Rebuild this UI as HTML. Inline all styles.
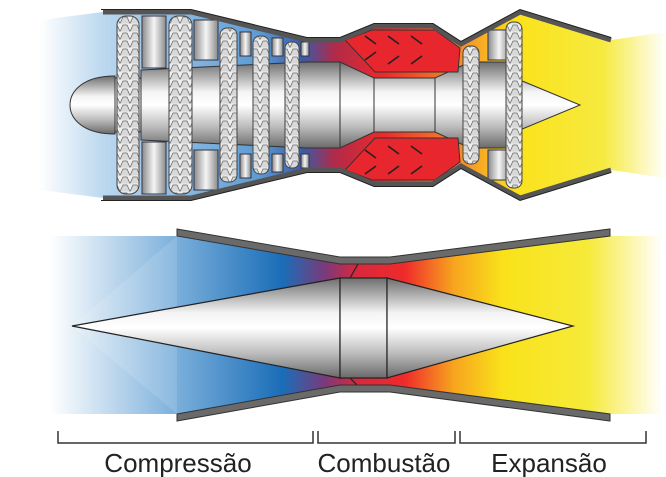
<!DOCTYPE html>
<html><head><meta charset="utf-8"><style>
html,body{margin:0;padding:0;background:#fff;width:666px;height:477px;overflow:hidden}
svg{display:block}
text{font-family:"Liberation Sans",sans-serif}
</style></head><body>
<svg width="666" height="477" viewBox="0 0 666 477" xmlns="http://www.w3.org/2000/svg">
<defs>
<linearGradient id="metal" x1="0" y1="0" x2="0" y2="1">
<stop offset="0" stop-color="#6e6e6e"/><stop offset="0.35" stop-color="#f4f4f4"/><stop offset="0.5" stop-color="#ffffff"/><stop offset="0.75" stop-color="#bdbdbd"/><stop offset="1" stop-color="#6a6a6a"/></linearGradient>
<linearGradient id="metalh" x1="0" y1="0" x2="1" y2="0">
<stop offset="0" stop-color="#8a8a8a"/><stop offset="0.5" stop-color="#f5f5f5"/><stop offset="1" stop-color="#8a8a8a"/></linearGradient>
<linearGradient id="flow" gradientUnits="userSpaceOnUse" x1="50" y1="0" x2="662" y2="0">
<stop offset="0" stop-color="#ffffff"/><stop offset="0.2" stop-color="#7fb2dc"/><stop offset="0.38" stop-color="#1a6db8"/><stop offset="0.45" stop-color="#7a3a7a"/><stop offset="0.5" stop-color="#d8283e"/><stop offset="0.58" stop-color="#ef2b2b"/><stop offset="0.66" stop-color="#f7a51e"/><stop offset="0.74" stop-color="#f9e21a"/><stop offset="0.88" stop-color="#f6ea3a"/><stop offset="1" stop-color="#ffffff"/></linearGradient>
<linearGradient id="flowtop" gradientUnits="userSpaceOnUse" x1="40" y1="0" x2="666" y2="0">
<stop offset="0" stop-color="#ffffff"/><stop offset="0.1" stop-color="#bcd8ef"/><stop offset="0.35" stop-color="#5c9bd3"/><stop offset="0.42" stop-color="#3a5aa8"/><stop offset="0.47" stop-color="#b02a4a"/><stop offset="0.55" stop-color="#ec2a2a"/><stop offset="0.68" stop-color="#f6922a"/><stop offset="0.76" stop-color="#fbe21a"/><stop offset="0.9" stop-color="#f6ea40"/><stop offset="1" stop-color="#ffffff"/></linearGradient>
<pattern id="blades" width="10" height="8" patternUnits="userSpaceOnUse">
<rect width="10" height="8" fill="#eeeeee"/><path d="M0 7.5 L3 1 L7 1 L10 7.5" fill="#d8d8d8" stroke="#666" stroke-width="0.7"/></pattern>
</defs>

<polygon points="40,20 103,12 191,12 307,40 340,40 374,26 433,26 461,44 520,12 611,40 666,32 666,178 611,170 520,198 461,166 433,184 374,184 340,170 307,170 191,198 103,198 40,190" fill="url(#flowtop)"/>
<path d="M115,78 L141,78 L141,70 L307,62 L340,62 L374,78 L435,78 L470,62 L515,62 L515,78 L580,105 L515,132 L515,148 L470,148 L435,132 L374,132 L340,148 L307,148 L141,140 L141,132 L115,132 Z" fill="url(#metal)" stroke="#333" stroke-width="1"/>
<line x1="340" y1="62" x2="340" y2="148" stroke="#333"/><line x1="374" y1="78" x2="374" y2="132" stroke="#333"/><line x1="435" y1="78" x2="435" y2="132" stroke="#333"/>
<line x1="141" y1="70" x2="141" y2="140" stroke="#333"/>
<path d="M115,76 C82,76 70,92 70,105 C70,118 82,134 115,134 Z" fill="url(#metal)" stroke="#333"/>
<g fill="url(#metalh)" stroke="#334" stroke-width="1">
<rect x="142" y="16" width="24" height="52"/><rect x="142" y="142" width="24" height="52"/>
<rect x="194" y="20" width="24" height="40"/><rect x="194" y="150" width="24" height="40"/>
<rect x="240" y="32" width="11" height="24"/><rect x="240" y="154" width="11" height="24"/>
<rect x="272" y="38" width="11" height="18"/><rect x="272" y="154" width="11" height="18"/>
<rect x="301" y="42" width="8" height="14"/><rect x="301" y="154" width="8" height="14"/>
<rect x="488" y="30" width="22" height="30"/><rect x="488" y="150" width="22" height="30"/>
</g>
<g fill="#e8262e" stroke="#333">
<polygon points="345,40 372,30 435,30 460,48 458,72 375,72"/>
<polygon points="345,170 372,180 435,180 460,162 458,138 375,138"/>
</g>
<g stroke="#222" stroke-width="1.6">
<line x1="365" y1="36" x2="376" y2="44"/><line x1="388" y1="36" x2="399" y2="44"/><line x1="411" y1="36" x2="422" y2="44"/>
<line x1="365" y1="60" x2="376" y2="52"/><line x1="388" y1="64" x2="399" y2="56"/><line x1="411" y1="64" x2="422" y2="56"/>
<line x1="365" y1="150" x2="376" y2="158"/><line x1="388" y1="146" x2="399" y2="154"/><line x1="411" y1="146" x2="422" y2="154"/>
<line x1="365" y1="174" x2="376" y2="166"/><line x1="388" y1="174" x2="399" y2="166"/><line x1="411" y1="174" x2="422" y2="166"/>
</g>
<g stroke="#444" stroke-width="1">
<rect x="117" y="16" width="22" height="178" rx="9" fill="url(#blades)"/>
<rect x="169" y="16" width="23" height="178" rx="9" fill="url(#blades)"/>
<rect x="220" y="28" width="17" height="154" rx="7" fill="url(#blades)"/>
<rect x="253" y="36" width="16" height="138" rx="7" fill="url(#blades)"/>
<rect x="285" y="42" width="14" height="126" rx="6" fill="url(#blades)"/>
<rect x="463" y="46" width="16" height="118" rx="7" fill="url(#blades)"/>
<rect x="506" y="22" width="16" height="166" rx="7" fill="url(#blades)"/>
</g>
<g fill="none" stroke="#555" stroke-width="5" stroke-linejoin="miter">
<polyline points="103,12 191,12 307,40 340,40 374,26 433,26 461,44 520,12 611,40"/>
<polyline points="103,198 191,198 307,170 340,170 374,184 433,184 461,166 520,198 611,170"/>
</g>
<g fill="none" stroke="#222" stroke-width="1">
<polyline points="101,9.5 191,9.5 307,37.5 340,37.5 374,23.5 433,23.5 461,41.5 520,9.5 611,37.5"/>
<polyline points="101,200.5 191,200.5 307,172.5 340,172.5 374,186.5 433,186.5 461,168.5 520,200.5 611,172.5"/>
</g>

<!-- bottom -->
<polygon points="50,236 177,236 340,262 390,262 610,236 662,236 662,414 610,414 390,386 340,386 177,414 50,414" fill="url(#flow)"/>
<polygon points="72,326 177,236 177,414" fill="#ffffff" opacity="0.12"/>
<polygon points="72,326 340,278 340,378" fill="url(#metal)" stroke="#222" stroke-width="1.2"/>
<rect x="340" y="278" width="47" height="100" fill="url(#metal)" stroke="#222" stroke-width="1.2"/>
<polygon points="387,278 573,326 387,378" fill="url(#metal)" stroke="#222" stroke-width="1.2"/>
<line x1="358" y1="264" x2="350" y2="278" stroke="#222" stroke-width="1.2"/>
<line x1="350" y1="378" x2="358" y2="386" stroke="#222" stroke-width="1.2"/>
<g fill="#6a6a6a" stroke="#333" stroke-width="1">
<polygon points="177,229 340,257 390,257 610,229 610,236 390,264 340,264 177,236"/>
<polygon points="177,414 340,385 390,385 610,414 610,421 390,392 340,392 177,421"/>
</g>
<g fill="none" stroke="#333" stroke-width="1.5">
<polyline points="58,431 58,443 313,443 313,431"/>
<polyline points="318,431 318,443 455,443 455,431"/>
<polyline points="460,431 460,443 646,443 646,431"/>
</g>
<g font-size="26" fill="#222" text-anchor="middle">
<text x="178" y="472">Compressão</text>
<text x="384" y="472">Combustão</text>
<text x="549" y="472">Expansão</text>
</g>
</svg>
</body></html>
